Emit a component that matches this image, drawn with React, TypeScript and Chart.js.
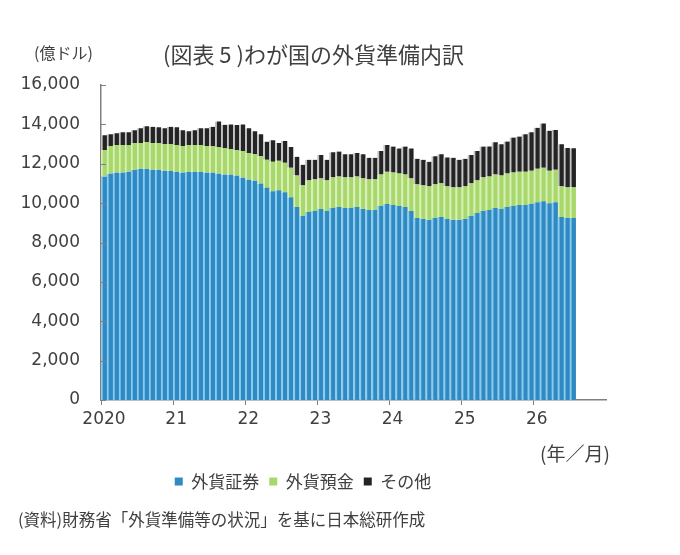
import { useEffect, useRef } from "react";
import { Chart, registerables } from "chart.js";

Chart.register(...registerables);

// ---- data (億ドル) ----
const yearLabels = ["2020", "21", "22", "23", "24", "25", "26"];
const monthNumbers = [1, 2, 3, 4, 5, 6, 7, 8, 9, 10, 11, 12];
const categories = yearLabels.flatMap((y) => monthNumbers.map((m) => `${y}/${m}`));

const securities = [
  11350, 11500, 11550, 11550, 11600, 11700, 11750, 11750, 11700, 11700, 11650, 11650,
  11600, 11550, 11600, 11600, 11600, 11550, 11550, 11500, 11450, 11450, 11400, 11300,
  11200, 11150, 11000, 10800, 10600, 10650, 10550, 10300, 9800, 9350, 9550, 9600,
  9700, 9600, 9750, 9800, 9750, 9750, 9800, 9700, 9650, 9650, 9850, 9950,
  9900, 9850, 9800, 9600, 9250, 9200, 9150, 9250, 9300, 9200, 9150, 9150,
  9200, 9350, 9500, 9600, 9650, 9750, 9700, 9800, 9850, 9900, 9900, 9950,
  10050, 10100, 10000, 10050, 9300, 9250, 9250,
];

const deposits = [
  1350, 1400, 1400, 1400, 1350, 1350, 1300, 1350, 1350, 1350, 1350, 1350,
  1350, 1350, 1350, 1350, 1350, 1350, 1350, 1350, 1350, 1300, 1300, 1350,
  1350, 1350, 1400, 1400, 1500, 1500, 1500, 1500, 1600, 1550, 1600, 1600,
  1550, 1550, 1550, 1550, 1550, 1550, 1550, 1550, 1550, 1550, 1600, 1650,
  1650, 1650, 1650, 1650, 1700, 1700, 1700, 1700, 1700, 1650, 1650, 1650,
  1650, 1650, 1650, 1700, 1700, 1700, 1700, 1700, 1700, 1700, 1700, 1700,
  1700, 1700, 1650, 1650, 1550, 1550, 1550,
];

const others = [
  750, 600, 600, 650, 650, 650, 750, 800, 830, 800, 800, 880,
  900, 800, 700, 750, 850, 900, 980, 1300, 1180, 1250, 1270, 1350,
  1250, 1150, 1100, 920, 1100, 900, 1100, 1050, 950, 1050, 1050, 1000,
  1200, 1050, 1280, 1270, 1180, 1180, 1200, 1230, 1100, 1100, 1200, 1350,
  1320, 1280, 1420, 1530, 1300, 1300, 1250, 1430, 1480, 1470, 1500, 1400,
  1400, 1450, 1500, 1570, 1530, 1640, 1590, 1630, 1780, 1780, 1900, 1950,
  2080, 2250, 2030, 2020, 2140, 2000, 1990,
];

const seriesNames = ["外貨証券", "外貨預金", "その他"];
const yMin = 0;
const yMax = 16000;
const yStep = 2000;

const TEXT = "#404040";
const AXIS = "#808080";
const JP = "'Noto Sans CJK JP', 'Noto Sans', sans-serif";
const NUM = "'DejaVu Sans', Verdana, sans-serif";

const innerYTicks = {
  id: "innerYTicks",
  afterDatasetsDraw(chart: any) {
    const y = chart.scales.y;
    const ctx = chart.ctx;
    ctx.save();
    ctx.strokeStyle = AXIS;
    ctx.lineWidth = 1;
    y.ticks.forEach((t: any) => {
      const py = Math.round(y.getPixelForValue(t.value)) + 0.5;
      ctx.beginPath();
      ctx.moveTo(y.right, py);
      ctx.lineTo(y.right + 5, py);
      ctx.stroke();
    });
    ctx.restore();
  },
};

const stripe = { left: 2, right: 0, top: 0, bottom: 0 };

function ReserveChart() {
  const ref = useRef<HTMLCanvasElement | null>(null);
  useEffect(() => {
    if (!ref.current) return;
    const chart = new Chart(ref.current, {
      type: "bar",
      data: {
        labels: categories,
        datasets: [
          {
            label: seriesNames[0],
            data: securities,
            backgroundColor: "#2F89C3",
            borderColor: "#8ACBEE",
            borderWidth: stripe,
            borderSkipped: false,
          },
          {
            label: seriesNames[1],
            data: deposits,
            backgroundColor: "#A8D86C",
            borderColor: "#D8F0B6",
            borderWidth: stripe,
            borderSkipped: false,
          },
          {
            label: seriesNames[2],
            data: others,
            backgroundColor: "#242424",
            borderColor: "#C4C4C4",
            borderWidth: stripe,
            borderSkipped: false,
          },
        ],
      },
      options: {
        animation: false,
        responsive: false,
        maintainAspectRatio: false,
        layout: { padding: { left: 0, right: 74, top: 85, bottom: 55 } },
        datasets: { bar: { categoryPercentage: 1, barPercentage: 1 } },
        scales: {
          x: {
            stacked: true,
            grid: {
              display: true,
              drawOnChartArea: false,
              drawTicks: true,
              tickLength: 5,
              offset: true,
              tickColor: (c: any) => (c.index % 12 === 0 ? AXIS : "rgba(0,0,0,0)"),
            },
            border: { display: true, color: AXIS, width: 1.5 },
            ticks: {
              autoSkip: false,
              maxRotation: 0,
              minRotation: 0,
              padding: 4,
              color: TEXT,
              font: { family: NUM, size: 17 },
              callback: (_v: any, i: number) => (i % 12 === 0 ? yearLabels[i / 12] : ""),
            },
            afterFit: (s: any) => {
              s.height = 63;
            },
          },
          y: {
            stacked: true,
            min: yMin,
            max: yMax,
            grid: { display: false, drawTicks: false },
            border: { display: true, color: AXIS, width: 1.5 },
            ticks: {
              stepSize: yStep,
              padding: 21,
              color: TEXT,
              font: { family: NUM, size: 17 },
              callback: (v: any) => Number(v).toLocaleString("en-US"),
            },
            afterFit: (s: any) => {
              s.width = 101;
            },
          },
        },
        plugins: {
          title: { display: false },
          tooltip: { enabled: false },
          legend: {
            display: true,
            position: "bottom",
            labels: {
              color: TEXT,
              font: { family: JP, size: 17 },
              boxWidth: 8,
              boxHeight: 8,
              padding: 10,
              generateLabels: (ch: any) =>
                Chart.defaults.plugins.legend.labels
                  .generateLabels(ch)
                  .map((l: any) => ({ ...l, lineWidth: 0, strokeStyle: l.fillStyle })),
            },
          },
        },
      },
      plugins: [innerYTicks],
    } as any);
    return () => chart.destroy();
  }, []);
  return <canvas ref={ref} width={680} height={555} style={{ display: "block" }} />;
}

const txt = (left: number, cy: number, size: number, s: string) => (
  <div
    style={{
      position: "absolute",
      left,
      top: cy - size / 2,
      fontFamily: JP,
      fontSize: size,
      lineHeight: `${size}px`,
      color: TEXT,
      whiteSpace: "nowrap",
    }}
  >
    {s}
  </div>
);

export default function App() {
  return (
    <div
      style={{
        position: "absolute",
        left: 0,
        top: 0,
        width: 680,
        height: 555,
        background: "#fff",
        overflow: "hidden",
      }}
    >
      <ReserveChart />
      {txt(34, 52, 16, "(億ドル)")}
      {txt(163, 53, 22, "(図表 5 )わが国の外貨準備内訳")}
      {txt(540, 452, 19, "(年／月)")}
      {txt(18, 519, 16.5, "(資料)財務省「外貨準備等の状況」を基に日本総研作成")}
    </div>
  );
}
